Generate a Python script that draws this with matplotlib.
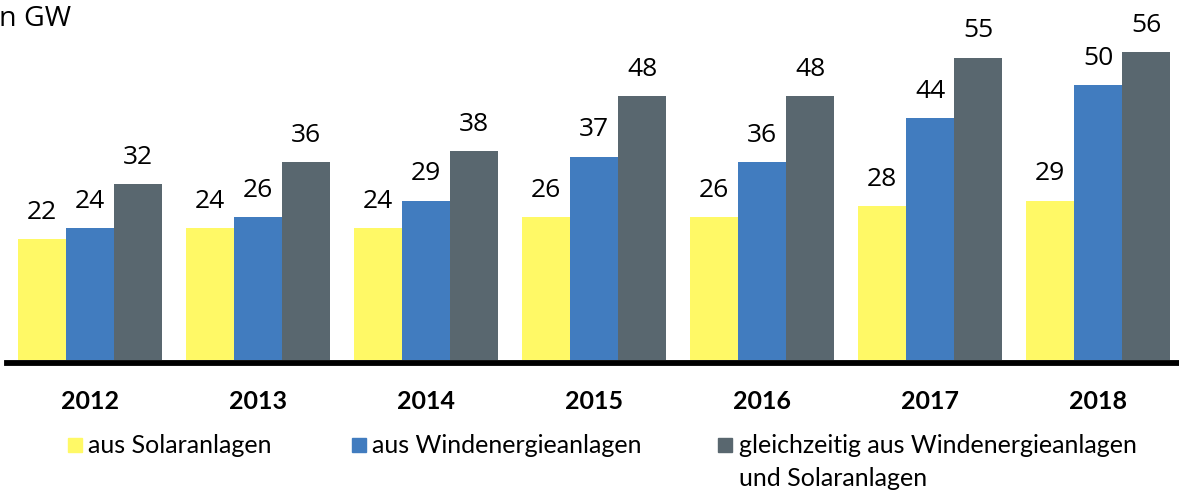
import matplotlib.pyplot as plt
from matplotlib.patches import Rectangle
import numpy as np

# Data
years = ["2012", "2013", "2014", "2015", "2016", "2017", "2018"]
solar = [22, 24, 24, 26, 26, 28, 29]
wind = [24, 26, 29, 37, 36, 44, 50]
both = [32, 36, 38, 48, 48, 55, 56]
series_names = ["aus Solaranlagen", "aus Windenergieanlagen",
                "gleichzeitig aus Windenergieanlagen\nund Solaranlagen"]
colors = ["#FFF966", "#417CBF", "#59676F"]

W, H = 1179, 494
fig = plt.figure(figsize=(W / 100, H / 100), dpi=100)
plt.rcParams['font.family'] = ['Open Sans', 'DejaVu Sans']

# axes: bars start at pixel row 360, axes bottom at 366, top at 0
px_per_unit = 5.5
ax = fig.add_axes([0, (H - 366) / H, 1, 366 / H])
ax.set_ylim(-6 / px_per_unit, 360 / px_per_unit)
ax.set_xlim(-90 / 168, (W - 90) / 168)

x = np.arange(len(years))
bw = 48 / 168
for i, (vals, col) in enumerate(zip([solar, wind, both], colors)):
    pos = x + (i - 1) * bw
    ax.bar(pos, vals, width=bw, color=col, edgecolor='none', zorder=2)
    for xp, v in zip(pos, vals):
        ax.annotate(str(v), (xp, v), xytext=(0, 14.5), textcoords="offset points",
                    ha='center', va='baseline', fontsize=19, color='black')

# thick baseline
ax.axhline(-3 / px_per_unit, xmin=7 / W, xmax=1, color='black', lw=4.2, zorder=3)

ax.set_xticks(x)
ax.set_xticklabels(years, fontsize=18, fontweight='bold', family='Lato')
ax.tick_params(axis='x', length=0, pad=17)
ax.set_yticks([])
for s in ax.spines.values():
    s.set_visible(False)

# unit label, partly cut off at the left edge as in the original
fig.text(71 / W, 1 - 19 / H, "in GW", ha='right', va='center', fontsize=20.5)

# legend
legend_pos = [(68, 88), (352, 372), (718, 739)]
for (sx, tx), name, col in zip(legend_pos, series_names, colors):
    fig.patches.append(Rectangle((sx / W, 1 - 452 / H), 14 / W, 14 / H,
                                 transform=fig.transFigure, color=col))
    fig.text(tx / W, 1 - 434 / H, name, ha='left', va='top', fontsize=18,
             family='Lato', linespacing=1.5)

plt.savefig("out.png", dpi=100)
